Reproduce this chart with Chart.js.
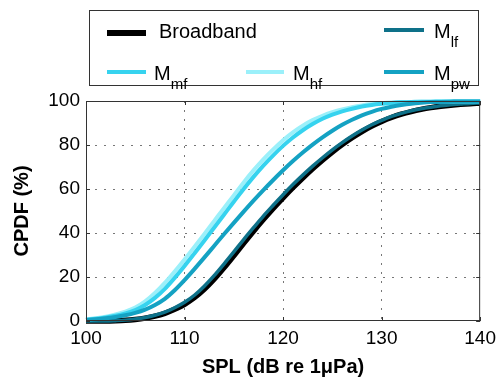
<!DOCTYPE html>
<html lang="en">
<head>
<meta charset="UTF-8">
<title>CPDF</title>
<style>
  body { margin: 0; background: #fff; font-family: "Liberation Sans", Arial, sans-serif; }
  #wrap { position: relative; width: 502px; height: 377px; }
  #legend { position: absolute; left: 89px; top: 10px; width: 390px; height: 76px; border: 1px solid #333; background: #fff; box-sizing: border-box; }
  #legend .ln { position: absolute; height: 4px; }
  #legend .tx { position: absolute; font-size: 20px; line-height: 20px; color: #000; white-space: nowrap; }
  #legend sub { font-size: 15px; vertical-align: -9px; line-height: 0; }
</style>
</head>
<body>
<div id="wrap">
  <canvas id="chart"></canvas>
  <div id="legend"></div>
</div>
<script src="https://cdn.jsdelivr.net/npm/chart.js"></script>
<script>
// SPL values (dB re 1 uPa)
const spl = [100,101,102,103,104,105,106,107,108,109,110,111,112,113,114,115,116,117,118,119,120,
             121,122,123,124,125,126,127,128,129,130,131,132,133,134,135,136,137,138,139,140];

// CPDF (%) per series
const broadband = [0,0,0,0.1,0.3,0.7,1.3,2.2,3.5,5.3,7.6,10.6,14.4,19,24.2,29.7,35.3,40.8,46.1,51.2,56,
                   60.6,65,69.2,73.1,76.8,80.2,83.3,86.1,88.6,90.7,92.5,94,95.2,96.2,97,97.6,98.1,98.5,98.8,99];
const mLf = [0,0,0,0.15,0.4,0.9,1.6,2.6,4,6,8.5,11.7,15.8,20.6,25.9,31.4,37,42.4,47.7,52.6,57.4,
             62,66.3,70.4,74.2,77.8,81.1,84.1,86.8,89.2,91.2,93,94.4,95.6,96.5,97.2,97.8,98.3,98.6,98.9,99.1];
const mMf = [0.6,1,1.6,2.4,3.5,5,7.3,10.5,14.6,19.6,25,30.7,36.5,42.4,48.3,54.2,60,65.5,70.6,75.3,79.6,
             83.4,86.7,89.5,91.9,93.8,95.3,96.5,97.5,98.2,98.7,99.1,99.4,99.6,99.7,99.7,99.8,99.8,99.8,99.8,99.8];
const mHf = [0.8,1.3,2,3,4.3,6.1,8.9,12.7,17.3,22.5,28,33.7,39.5,45.4,51.3,57.1,63,68.5,73.5,78,82.2,
             85.8,88.8,91.3,93.3,94.9,96.2,97.2,98,98.6,99,99.3,99.5,99.6,99.7,99.7,99.8,99.8,99.9,99.9,99.9];
const mPw = [0.5,0.8,1.2,1.8,2.6,3.7,5.2,7.3,10.1,14,18.6,23.6,28.8,34.1,39.4,44.6,49.7,54.7,59.5,64.1,68.5,
             72.7,76.6,80.2,83.5,86.5,89.2,91.5,93.5,95.1,96.4,97.4,98.2,98.8,99.2,99.5,99.6,99.7,99.8,99.8,99.8];

const xTicks = [100, 110, 120, 130, 140];
const yTicks = [0, 20, 40, 60, 80, 100];

const colors = { broadband: '#000000', lf: '#0e7189', mf: '#36d3ef', hf: '#9bf0fa', pw: '#14a2c3' };

const pts = arr => arr.map((v, i) => ({ x: spl[i], y: v }));

function ds(label, arr, color, width) {
  return { label, data: pts(arr), borderColor: color, backgroundColor: color, borderWidth: width,
           pointRadius: 0, fill: false, cubicInterpolationMode: 'monotone', clip: false };
}

// first dataset is drawn on top
const datasets = [
  ds('M_pw', mPw, colors.pw, 4),
  ds('M_mf', mMf, colors.mf, 4),
  ds('M_hf', mHf, colors.hf, 4),
  ds('M_lf', mLf, colors.lf, 3.5),
  ds('Broadband', broadband, colors.broadband, 5.5)
];

// frame and inner tick marks like the original
const framePlugin = {
  id: 'frame',
  afterDraw(chart) {
    const { ctx, chartArea: a, scales } = chart;
    ctx.save();
    ctx.strokeStyle = '#333';
    ctx.lineWidth = 1;
    ctx.strokeRect(a.left + 0.5, a.top + 0.5, a.right - a.left - 1, a.bottom - a.top - 1);
    ctx.beginPath();
    xTicks.forEach(t => {
      const px = Math.round(scales.x.getPixelForValue(t)) + 0.5;
      ctx.moveTo(px, a.bottom); ctx.lineTo(px, a.bottom - 4);
      ctx.moveTo(px, a.top); ctx.lineTo(px, a.top + 4);
    });
    yTicks.forEach(t => {
      const py = Math.round(scales.y.getPixelForValue(t)) + 0.5;
      ctx.moveTo(a.left, py); ctx.lineTo(a.left + 4, py);
      ctx.moveTo(a.right, py); ctx.lineTo(a.right - 4, py);
    });
    ctx.stroke();
    ctx.restore();
  }
};

const tickFont = { family: '"Liberation Sans", Arial, sans-serif', size: 19 };
const titleFont = { family: '"Liberation Sans", Arial, sans-serif', size: 20, weight: 'bold', lineHeight: 1 };
const gridOpts = {
  color: ctx => (ctx.tick && (ctx.index === 0 || ctx.index === ctx.chart.scales[ctx.scale.id].ticks.length - 1)) ? 'rgba(0,0,0,0)' : '#777',
  lineWidth: 1, drawTicks: false
};

new Chart(document.getElementById('chart'), {
  type: 'line',
  data: { datasets },
  options: {
    responsive: true,
    maintainAspectRatio: false,
    animation: false,
    layout: { padding: { top: 101, right: 20, left: 0, bottom: 0 } },
    plugins: { legend: { display: false }, tooltip: { enabled: false } },
    scales: {
      x: {
        type: 'linear', min: 100, max: 140,
        afterFit: s => { s.height = 56; },
        afterBuildTicks: s => { s.ticks = xTicks.map(v => ({ value: v })); },
        border: { display: false, dash: [2, 7] },
        grid: gridOpts,
        ticks: { font: tickFont, color: '#000', padding: 6, maxRotation: 0 },
        title: { display: true, text: 'SPL (dB re 1μPa)', font: titleFont, color: '#000', padding: { top: 0, bottom: 0 } }
      },
      y: {
        min: 0, max: 100,
        afterFit: s => { s.width = 86; },
        afterBuildTicks: s => { s.ticks = yTicks.map(v => ({ value: v })); },
        border: { display: false, dash: [2, 7] },
        grid: gridOpts,
        ticks: { font: tickFont, color: '#000', padding: 6 },
        title: { display: true, text: 'CPDF (%)', font: titleFont, color: '#000', padding: { top: 12, bottom: 0 } }
      }
    }
  },
  plugins: [framePlugin]
});

// legend with subscripts, laid out in three columns like the figure
const legendItems = [
  { name: 'Broadband', sub: '', color: colors.broadband, line: [17, 19, 39, 6], text: [69, 10] },
  { name: 'M', sub: 'lf', color: colors.lf, line: [294, 17, 40, 4], text: [344, 10] },
  { name: 'M', sub: 'mf', color: colors.mf, line: [17, 59, 39, 4], text: [64, 52] },
  { name: 'M', sub: 'hf', color: colors.hf, line: [156, 59, 38, 4], text: [203, 52] },
  { name: 'M', sub: 'pw', color: colors.pw, line: [294, 59, 40, 4], text: [344, 52] }
];
const legend = document.getElementById('legend');
legendItems.forEach(it => {
  const ln = document.createElement('div');
  ln.className = 'ln';
  ln.style.cssText = `left:${it.line[0]}px;top:${it.line[1]}px;width:${it.line[2]}px;height:${it.line[3]}px;background:${it.color}`;
  legend.appendChild(ln);
  const tx = document.createElement('div');
  tx.className = 'tx';
  tx.style.left = it.text[0] + 'px';
  tx.style.top = it.text[1] + 'px';
  tx.innerHTML = it.name + (it.sub ? `<sub>${it.sub}</sub>` : '');
  legend.appendChild(tx);
});
</script>
</body>
</html>
